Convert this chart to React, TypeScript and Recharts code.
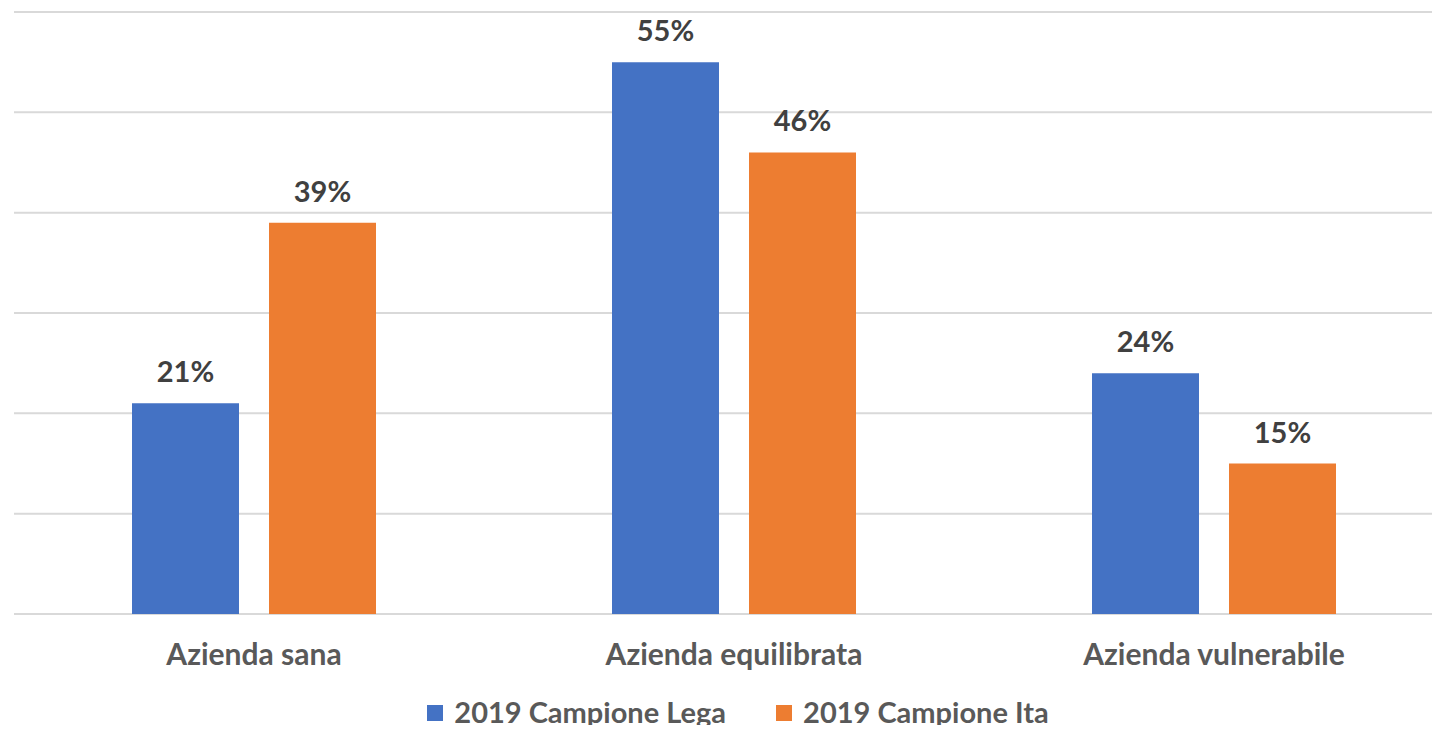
import { BarChart, Bar, XAxis, YAxis, CartesianGrid, LabelList } from 'recharts';

const categories = ['Azienda sana', 'Azienda equilibrata', 'Azienda vulnerabile'];
const seriesNames = ['2019 Campione Lega', '2019 Campione Ita'];
const lega = [21, 55, 24];
const ita = [39, 46, 15];
const yTicks = [0, 10, 20, 30, 40, 50, 60];

const COLORS = ['#4472C4', '#ED7D31'];
const FONT = 'Lato, "Open Sans", sans-serif';

const data = categories.map((name, i) => ({ name, lega: lega[i], ita: ita[i] }));

function CategoryTick(props: any) {
  const { x, y, payload } = props;
  return (
    <text x={x} y={y + 43} textAnchor="middle" fill="#595959" fontSize={30} fontWeight={700} fontFamily={FONT}>
      {payload.value}
    </text>
  );
}

export default function App() {
  return (
    <div style={{ margin: -8, width: 1440, height: 733, overflow: 'hidden', position: 'relative', background: '#fff' }}>
      <BarChart
        width={1454}
        height={733}
        data={data}
        barSize={107}
        barGap={30}
        margin={{ top: 12, right: 0, left: 14, bottom: 59 }}
      >
        <CartesianGrid vertical={false} stroke="#d9d9d9" strokeWidth={2} />
        <XAxis dataKey="name" axisLine={false} tickLine={false} height={60} tick={<CategoryTick />} interval={0} />
        <YAxis hide domain={[0, 60]} ticks={yTicks} />
        {[lega, ita].map((_, si) => (
          <Bar key={si} dataKey={si === 0 ? 'lega' : 'ita'} fill={COLORS[si]} isAnimationActive={false}>
            <LabelList
              dataKey={si === 0 ? 'lega' : 'ita'}
              position="top"
              offset={21}
              formatter={(v: any) => `${v}%`}
              fill="#404040"
              fontSize={29}
              fontWeight={700}
              fontFamily={FONT}
            />
          </Bar>
        ))}
      </BarChart>
      <div
        style={{
          position: 'absolute',
          top: 697,
          left: 18,
          width: 1440,
          display: 'flex',
          justifyContent: 'center',
          gap: 50,
          fontFamily: FONT,
          fontWeight: 700,
          fontSize: 29,
          color: '#595959',
          lineHeight: '30px',
        }}
      >
        {seriesNames.map((n, i) => (
          <div key={n} style={{ display: 'flex', alignItems: 'center' }}>
            <span style={{ width: 16, height: 16, background: COLORS[i], display: 'inline-block', marginRight: 11, marginTop: 2 }} />
            {n}
          </div>
        ))}
      </div>
    </div>
  );
}
